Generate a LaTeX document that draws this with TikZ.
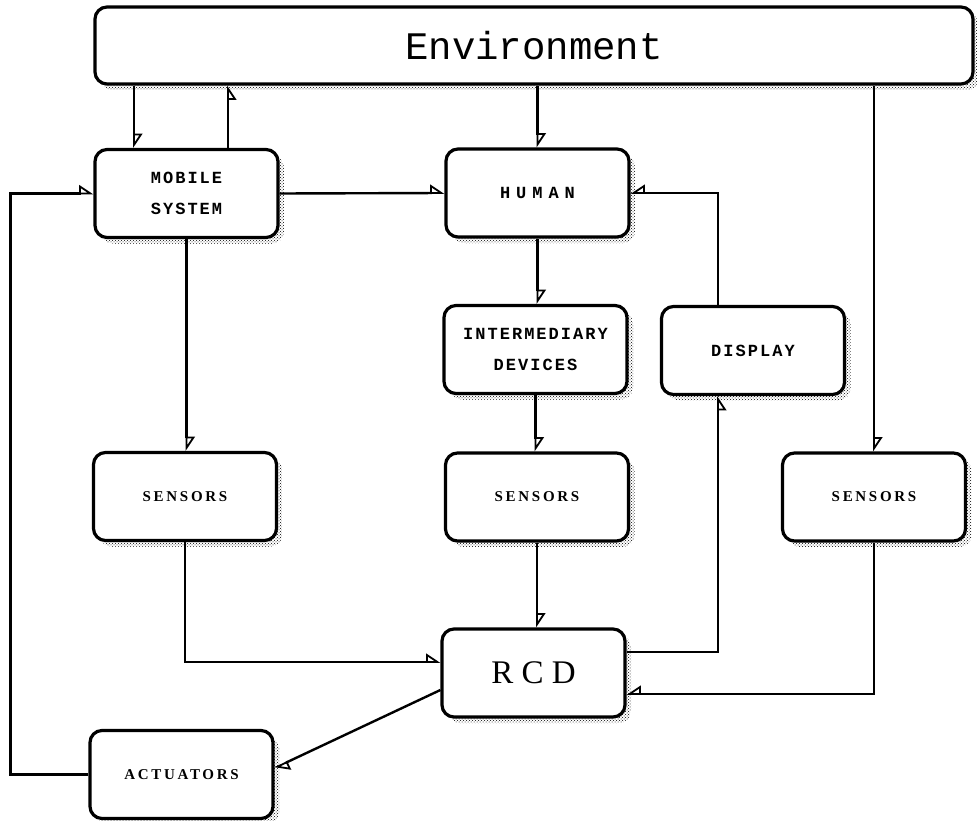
\documentclass[tikz,border=0pt]{standalone}
\usepackage{fontspec}
\usetikzlibrary{arrows.meta,shadows,patterns,calc}
\newfontfamily\envfont{Liberation Mono}
\newfontfamily\boxfont[LetterSpace=12]{Liberation Mono}
\newfontfamily\humfont[LetterSpace=35]{Liberation Mono}
\newfontfamily\senfont[LetterSpace=18]{Liberation Serif}
\newfontfamily\rcdfont[LetterSpace=25]{Liberation Serif}
\begin{document}
\begin{tikzpicture}[x=1pt,y=-1pt,
  blk/.style={draw, line width=3.2pt, rounded corners=12pt, fill=white,
    minimum width=183pt, minimum height=88pt, inner sep=0pt, align=center,
    general shadow={shadow xshift=6pt, shadow yshift=-6pt,
      pattern=crosshatch dots, pattern color=black}},
  boxtxt/.style={font=\boxfont\bfseries\fontsize{17}{31}\selectfont},
  humtxt/.style={font=\humfont\bfseries\fontsize{17}{31}\selectfont},
  sentxt/.style={font=\senfont\bfseries\fontsize{15}{20}\selectfont},
  conn/.style={line width=2.4pt},
  aL/.style={conn, -{Triangle[open,harpoon,length=13pt,width=17pt,line width=1.8pt]}},
  aR/.style={conn, -{Triangle[open,harpoon,swap,length=13pt,width=17pt,line width=1.8pt]}}]
\useasboundingbox (0,0) rectangle (977,821);
\fill[white] (0,0) rectangle (977,821);

\node[blk, minimum width=878pt, minimum height=77pt,
      font=\envfont\fontsize{39}{40}\selectfont] (env) at (534,45.5) {Environment};
\node[blk, boxtxt] (mob) at (186.5,193.5) {MOBILE\\SYSTEM};
\node[blk, humtxt] (hum) at (537.5,193) {HUMAN};
\node[blk, boxtxt] (intd) at (535.5,349.5) {INTERMEDIARY\\DEVICES};
\node[blk, boxtxt] (disp) at (753,350.5) {DISPLAY};
\node[blk, sentxt] (sen1) at (185,496.5) {SENSORS};
\node[blk, sentxt] (sen2) at (537,497) {SENSORS};
\node[blk, sentxt] (sen3) at (874,497) {SENSORS};
\node[blk, font=\rcdfont\fontsize{33}{36}\selectfont] (rcd) at (533.5,673) {RCD};
\node[blk, sentxt] (act) at (181.5,774.5) {ACTUATORS};

% environment links
\draw[aL] ([xshift=-52.5pt]mob.north |- env.south) -- ([xshift=-52.5pt]mob.north);
\draw[aR] ([xshift=41.5pt]mob.north) -- ([xshift=41.5pt]mob.north |- env.south);
\draw[aL] (hum.north |- env.south) -- (hum.north);
\draw[aL] (sen3.north |- env.south) -- (sen3.north);

% mobile system links
\draw[aL] (mob.east) -- (hum.west);
\draw[aL] (mob.south) -- (mob.south |- sen1.north);

% human chain
\draw[aL] (hum.south) -- (hum.south |- intd.north);
\draw[aL] (intd.south) -- (intd.south |- sen2.north);
\draw[aL] (sen2.south) -- (sen2.south |- rcd.north);

% display
\draw[aR] ([xshift=-35pt]disp.north) |- (hum.east);
\draw[aR] ([yshift=21pt]rcd.east) -| ([xshift=-35pt]disp.south);

% sensors to RCD
\draw[aR] (sen3.south) |- ([yshift=-21pt]rcd.east);
\draw[aL] (sen1.south) |- ([yshift=11pt]rcd.west);

% RCD to actuators, actuators to mobile system
\draw[aL] ([yshift=-17pt]rcd.west) -- ([yshift=6.5pt]act.east);
\draw[aL] (act.west) -- ++(-78pt,0) |- (mob.west);
\end{tikzpicture}
\end{document}
